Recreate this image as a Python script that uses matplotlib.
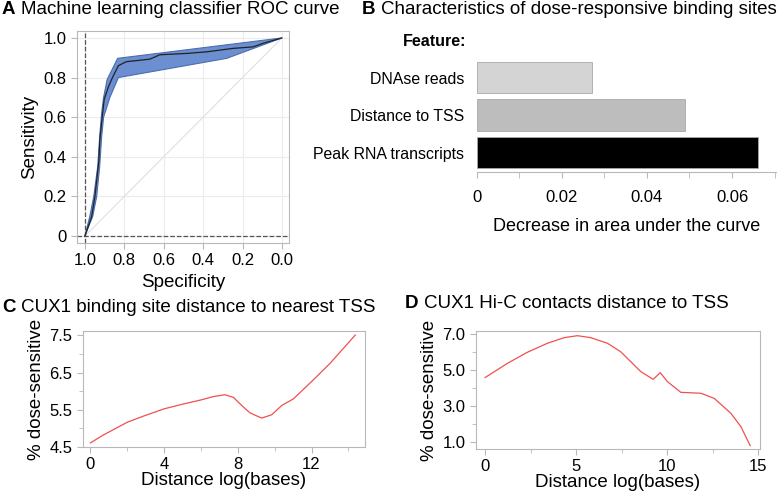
import matplotlib
matplotlib.use("Agg")
import matplotlib.pyplot as plt
import numpy as np

plt.rcParams["font.family"] = ["Liberation Sans", "DejaVu Sans"]

# Panel A: ROC curve (specificity, sensitivity)
roc_spec = [1.0, 0.966, 0.949, 0.929, 0.924, 0.912, 0.902, 0.88, 0.86, 0.83, 0.79,
            0.67, 0.62, 0.48, 0.38, 0.25, 0.146, 0.095, 0.0]
roc_sens = [0.0, 0.097, 0.2, 0.38, 0.49, 0.6, 0.69, 0.755, 0.80, 0.86, 0.88,
            0.893, 0.915, 0.922, 0.93, 0.947, 0.955, 0.973, 1.0]
band_up_spec = [1.0, 0.975, 0.955, 0.935, 0.925, 0.915, 0.905, 0.887, 0.834, 0.0]
band_up_sens = [0.0, 0.1, 0.2, 0.35, 0.5, 0.62, 0.70, 0.79, 0.897, 1.0]
band_lo_spec = [1.0, 0.96, 0.94, 0.925, 0.915, 0.905, 0.873, 0.83, 0.28, 0.0]
band_lo_sens = [0.0, 0.1, 0.2, 0.35, 0.5, 0.6, 0.70, 0.80, 0.897, 1.0]

# Panel B: feature importance
features = ["Peak RNA transcripts", "Distance to TSS", "DNAse reads"]
auc_decrease = [0.066, 0.0489, 0.0271]
bar_colors = ["#000000", "#bdbdbd", "#d4d4d4"]

# Panel C: binding site distance
c_x = [0, 0.69, 1.41, 2.01, 2.86, 4.0, 5.04, 6.0, 6.67, 7.30, 7.76, 8.21, 8.66,
       9.29, 9.84, 10.38, 11.02, 12.01, 13.01, 14.37]
c_y = [4.60, 4.81, 5.00, 5.16, 5.32, 5.52, 5.65, 5.76, 5.85, 5.90, 5.83, 5.61, 5.41,
       5.27, 5.36, 5.61, 5.79, 6.26, 6.75, 7.51]

# Panel D: Hi-C contacts distance
d_x = [0, 1.23, 2.32, 3.42, 4.34, 5.07, 5.81, 6.72, 7.45, 8.0, 8.55, 9.23, 9.62,
       10.02, 10.75, 11.85, 12.58, 13.5, 14.05, 14.56]
d_y = [4.57, 5.36, 5.97, 6.47, 6.78, 6.89, 6.78, 6.47, 6.0, 5.45, 4.90, 4.47, 4.84,
       4.34, 3.75, 3.70, 3.42, 2.59, 1.85, 0.80]

W, H = 777, 491
fig = plt.figure(figsize=(W / 100, H / 100), dpi=100)

def box(l, t, r, b):
    return [l / W, 1 - b / H, (r - l) / W, (b - t) / H]

spine_c = "#b8b8b8"
red = "#f05050"

def panel_title(x, y, letter, text):
    t = fig.text(x / W, 1 - y / H, letter, fontsize=13.5, fontweight="bold", va="center")
    plt.annotate(text, xy=(1, 0.5), xycoords=t, xytext=(4, 0),
                 textcoords="offset points", va="center", fontsize=13.5,
                 annotation_clip=False)

def style(ax):
    for s in ax.spines.values():
        s.set_color(spine_c)
    ax.tick_params(colors=spine_c, labelcolor="black", labelsize=12, length=4, direction="out")
    ax.tick_params(which="minor", colors=spine_c, length=3)

# ---- A
axA = fig.add_axes(box(77, 31, 289, 243))
style(axA)
axA.fill(band_up_spec + band_lo_spec[::-1], band_up_sens + band_lo_sens[::-1],
         color="#6b8fd0", ec="#4a6db0", lw=0.8, zorder=2)
axA.plot(roc_spec, roc_sens, color="#222222", lw=0.9, zorder=3)
axA.plot([1, 0], [0, 1], color="#e0e0e0", lw=0.8, zorder=1)
axA.axvline(1.0, color="#555555", ls="--", lw=0.9, zorder=1)
axA.axhline(0.0, color="#555555", ls="--", lw=0.9, zorder=1)
axA.set_xlim(1.04, -0.036)
axA.set_ylim(-0.035, 1.035)
axA.set_xticks([1.0, 0.8, 0.6, 0.4, 0.2, 0.0])
axA.set_xticklabels(["1.0", "0.8", "0.6", "0.4", "0.2", "0.0"])
axA.set_yticks([0, 0.2, 0.4, 0.6, 0.8, 1.0])
axA.set_yticklabels(["0", "0.2", "0.4", "0.6", "0.8", "1.0"])
axA.grid(color="#ececec", lw=0.8, zorder=0)
axA.set_axisbelow(True)
axA.set_xlabel("Specificity", fontsize=13.5, labelpad=4)
axA.set_ylabel("Sensitivity", fontsize=13.5, labelpad=4)

# ---- B
axB = fig.add_axes(box(476.7, 55, 776.7, 172))
ypos = np.arange(len(features))
axB.barh(ypos, auc_decrease, height=0.845, color=bar_colors, edgecolor="#a8a8a8", lw=0.6)
axB.set_xlim(0, 0.0705)
axB.set_ylim(-0.52, 2.6)
axB.set_yticks(ypos)
axB.set_yticklabels(features, fontsize=11.4)
axB.set_xticks([0, 0.02, 0.04, 0.06])
axB.set_xticklabels(["0", "0.02", "0.04", "0.06"])
axB.set_xticks([0.01, 0.03, 0.05, 0.07], minor=True)
for s in ["top", "right", "left"]:
    axB.spines[s].set_visible(False)
axB.spines["bottom"].set_color(spine_c)
axB.tick_params(axis="y", length=0, pad=9)
axB.tick_params(axis="x", colors=spine_c, labelcolor="black", labelsize=12, length=4, pad=9)
axB.tick_params(axis="x", which="minor", colors=spine_c, length=4)
axB.set_xlabel("Decrease in area under the curve", fontsize=13, labelpad=9)
fig.text(435 / W, 1 - 41 / H, "Feature:", fontsize=11.5, fontweight="bold", ha="center", va="center")

# ---- C
axC = fig.add_axes(box(83, 331, 365, 447))
style(axC)
axC.plot(c_x, c_y, color=red, lw=0.9)
axC.set_xlim(-0.4, 14.9)
axC.set_ylim(4.49, 7.62)
axC.set_xticks([0, 4, 8, 12])
axC.set_xticks([2, 6, 10, 14], minor=True)
axC.set_yticks([4.5, 5.5, 6.5, 7.5])
axC.set_yticklabels(["4.5", "5.5", "6.5", "7.5"])
axC.set_yticks([5.0, 6.0, 7.0], minor=True)
axC.set_xlabel("Distance log(bases)", fontsize=13.5, labelpad=0)
axC.set_ylabel("% dose-sensitive", fontsize=13.5, labelpad=3)

# ---- D
axD = fig.add_axes(box(476, 331, 760, 449))
style(axD)
axD.plot(d_x, d_y, color=red, lw=0.9)
axD.set_xlim(-0.5, 15.1)
axD.set_ylim(0.61, 7.15)
axD.set_xticks([0, 5, 10, 15])
axD.set_xticks([2.5, 7.5, 12.5], minor=True)
axD.set_yticks([1.0, 3.0, 5.0, 7.0])
axD.set_yticklabels(["1.0", "3.0", "5.0", "7.0"])
axD.set_yticks([2.0, 4.0, 6.0], minor=True)
axD.set_xlabel("Distance log(bases)", fontsize=13.5, labelpad=0)
axD.set_ylabel("% dose-sensitive", fontsize=13.5, labelpad=3)

panel_title(2, 10, "A", "Machine learning classifier ROC curve")
panel_title(362, 10, "B", "Characteristics of dose-responsive binding sites")
panel_title(2, 307, "C", "CUX1 binding site distance to nearest TSS")
panel_title(405, 303, "D", "CUX1 Hi-C contacts distance to TSS")

fig.savefig("out.png", dpi=100)
